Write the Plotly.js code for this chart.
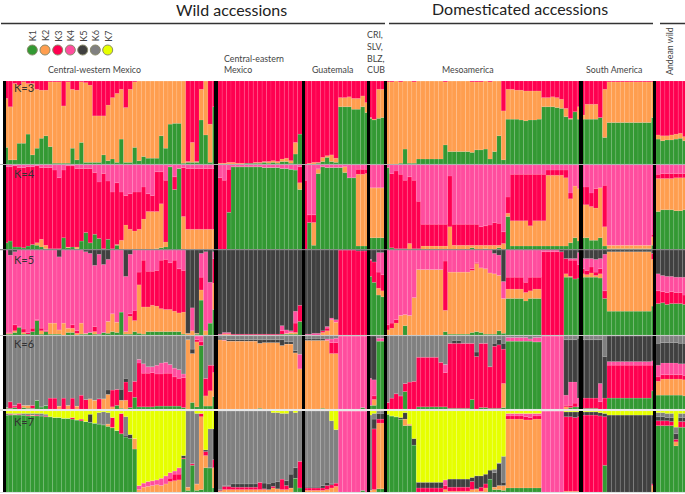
<!DOCTYPE html>
<html><head><meta charset="utf-8">
<script src="https://cdn.plot.ly/plotly-3.0.1.min.js"></script>
<style>html,body{margin:0;padding:0;background:#fff}#c{width:685px;height:494px}</style>
</head><body><div id="c"></div>
<script>
// Cluster names and colours, bottom to top of every stacked bar
const clusterNames=['K1','K2','K3','K4','K5','K6','K7'];
const clusterColors=['#339933','#FF9E4F','#FF0050','#FF4D9E','#404040','#808080','#E6FF00'];
// Each bar: upper boundary (percent) of K1, K2, ... ; the row's last cluster fills up to 100.
// K=3
const k3_cw=[[20,79],[5,69],[5,97],[25,95],[25,99],[36,97],[11,97],[19,90],[31,89],[34,89],[21,99],[1,99],[1,99],[1,70],[1,99],[19,90],[5,89],[26,99],[2,98],[2,95],[2,58],[2,58],[11,58],[4,71],[6,80],[2,85],[30,90],[2,68],[2,90],[20,99],[4,100],[9,100],[7,100],[7,100],[7,100],[34,100],[19,100],[48,100],[49,100],[49,100],[1,100],[2,3],[2,26],[2,3],[53,90],[35,100],[2,48],[69,69]];
const k3_ce=[[0,1],[0,1],[0,2],[0,2],[0,1],[0,1],[1,1],[1,1],[1,2],[1,2],[2,3],[1,3],[2,4],[1,3],[3,6],[3,7],[1,4],[12,26],[36,36]];
const k3_gu=[[0,0],[0,1],[0,2],[1,2],[3,8],[8,10],[3,11],[2,7],[69,80],[69,80],[69,81],[66,79],[66,79],[69,82],[62,74]];
const k3_cr=[[55,56],[53,54],[55,90],[56,90]];
const k3_me=[[0,99],[0,99],[0,100],[1,99],[18,100],[1,100],[1,99],[6,100],[6,100],[6,100],[6,100],[6,100],[6,100],[23,99],[15,100],[15,100],[15,100],[15,100],[15,100],[14,99],[17,99],[17,99],[18,100],[6,99],[15,100],[34,100],[5,64],[54,90],[54,90],[54,89],[53,89],[52,88],[53,88],[53,88],[54,88],[69,80],[69,80],[69,81],[68,80],[67,78],[57,67],[54,55],[63,63],[54,69]];
const k3_sa=[[54,59],[54,72],[54,72],[54,72],[56,56],[32,90],[50,99],[50,99],[50,99],[50,99],[50,99],[50,99],[50,99],[50,99],[50,99],[50,99],[56,99]];
const k3_an=[[30,35],[28,34],[29,34],[29,35],[30,36],[31,37],[28,33]];
// K=4
const k4_cw=[[8,8,98],[10,10,98],[3,3,99],[3,3,97],[2,2,97],[4,4,98],[6,6,98],[5,8,99],[3,12,97],[1,5,97],[1,1,97],[1,1,94],[1,1,85],[14,14,94],[2,3,99],[3,3,99],[1,3,96],[10,10,96],[20,20,96],[8,8,96],[18,18,91],[13,13,80],[1,1,90],[12,12,81],[1,1,68],[5,6,79],[0,11,68],[0,29,64],[0,24,66],[0,22,68],[0,24,68],[0,36,74],[0,45,66],[0,45,64],[1,45,92],[2,54,92],[3,9,82],[98,98,98],[71,71,86],[96,96,96],[0,39,97],[0,24,96],[0,24,96],[0,24,96],[0,24,96],[0,24,96],[0,24,96],[0,24,96]];
const k4_ce=[[0,0,85],[0,0,82],[44,44,95],[98,98,98],[98,98,98],[98,98,98],[98,98,98],[98,98,98],[98,98,98],[98,98,98],[97,97,97],[97,97,97],[97,97,97],[97,97,97],[96,96,96],[96,96,96],[95,95,95],[94,94,94],[71,79,98]];
const k4_gu=[[0,0,82],[32,32,41],[5,32,41],[90,95,96],[98,98,98],[97,97,97],[97,97,97],[97,97,97],[97,97,97],[91,98,98],[85,85,85],[85,85,85],[4,89,95],[4,89,95],[4,90,95]];
const k4_cr=[[14,73,73],[14,73,73],[14,73,73],[14,73,73]];
const k4_me=[[97,97,97],[2,2,90],[1,1,93],[1,1,89],[1,1,82],[0,7,86],[1,1,82],[1,1,57],[0,4,30],[0,4,30],[0,4,30],[0,4,30],[0,4,30],[0,4,30],[0,27,87],[0,5,30],[0,5,30],[0,5,30],[0,5,30],[2,5,30],[0,5,30],[0,5,27],[1,5,28],[0,5,29],[0,5,32],[2,5,31],[0,7,21],[39,43,62],[4,34,89],[4,34,89],[4,34,89],[4,34,89],[4,28,89],[4,34,89],[4,34,89],[4,34,89],[4,88,94],[4,88,94],[4,88,94],[4,88,94],[4,85,94],[8,60,67],[14,75,75],[10,72,72]];
const k4_sa=[[14,53,74],[14,53,74],[11,51,67],[11,49,72],[14,73,73],[4,27,76],[1,5,5],[1,5,5],[1,5,5],[1,5,5],[1,5,5],[1,5,5],[1,5,5],[1,5,5],[1,5,5],[1,5,5],[5,15,18]];
const k4_an=[[45,84,89],[47,84,90],[47,84,90],[47,84,90],[46,85,90],[46,85,90],[47,85,90]];
// K=5
const k5_cw=[[1,2,3,100],[1,2,3,94],[3,5,12,98],[9,9,10,100],[1,3,7,100],[1,1,3,100],[4,4,8,100],[17,17,18,100],[1,5,8,100],[4,4,5,100],[1,14,14,100],[1,14,14,100],[1,6,6,92],[0,14,14,100],[3,8,8,100],[3,8,12,100],[0,2,5,100],[1,14,14,100],[1,2,2,98],[3,3,3,96],[1,4,10,82],[1,1,1,95],[3,3,3,83],[2,16,16,89],[4,25,25,100],[3,15,15,100],[27,27,27,100],[1,4,4,69],[1,22,25,95],[4,17,29,100],[2,59,74,100],[1,33,88,100],[4,33,75,100],[4,35,75,100],[4,34,76,100],[4,31,88,100],[4,30,89,100],[4,30,85,100],[4,28,88,100],[4,26,78,100],[1,27,76,100],[0,2,2,2],[0,5,5,32],[1,2,2,2],[41,53,68,96],[0,5,5,98],[14,14,14,62],[30,61,90,98]];
const k5_ce=[[0,0,0,1],[0,1,2,3],[0,1,2,3],[0,0,1,1],[0,0,1,1],[0,0,1,1],[0,0,1,1],[0,0,1,1],[0,0,1,1],[0,0,1,1],[0,0,1,1],[0,0,1,1],[0,0,1,1],[0,0,1,1],[1,1,5,11],[1,2,2,6],[1,3,3,5],[1,3,14,28],[16,16,35,35]];
const k5_gu=[[0,0,0,1],[0,0,0,1],[0,0,0,2],[0,0,0,2],[0,3,5,5],[0,5,8,10],[0,18,18,20],[0,15,15,18],[0,0,100,100],[0,0,100,100],[0,0,100,100],[0,0,100,100],[0,0,99,99],[0,0,99,99],[0,0,99,99]];
const k5_cr=[[69,69,88,89],[62,62,86,86],[47,55,74,97],[45,52,71,97]];
const k5_me=[[0,6,12,100],[0,8,14,100],[0,14,18,100],[0,23,23,100],[11,24,24,100],[0,23,23,100],[0,44,44,100],[0,77,77,100],[0,77,77,100],[0,77,77,100],[0,77,77,100],[0,77,77,100],[0,77,77,100],[4,29,87,100],[1,74,74,100],[1,74,74,100],[1,74,74,100],[1,74,74,100],[1,74,74,100],[3,76,78,100],[4,84,85,100],[3,79,79,100],[1,78,78,100],[1,73,73,100],[1,72,72,96],[5,70,70,94],[2,43,43,63],[43,54,68,100],[43,54,68,100],[43,54,68,100],[43,54,68,100],[40,50,62,100],[43,52,68,100],[43,54,68,100],[43,54,68,100],[0,0,98,100],[0,0,98,100],[0,0,98,100],[0,0,98,100],[0,0,98,98],[68,72,90,90],[68,69,88,90],[66,66,88,90],[67,67,83,97]];
const k5_sa=[[68,72,78,90],[68,71,76,90],[68,73,80,90],[68,70,74,89],[67,72,78,90],[43,43,52,95],[28,98,98,98],[28,98,98,98],[28,98,98,98],[28,98,98,98],[28,98,98,98],[28,98,98,98],[28,98,98,98],[28,98,98,98],[28,98,98,98],[28,98,98,98],[34,89,96,96]];
const k5_an=[[37,37,52,72],[38,38,51,70],[36,36,50,69],[37,37,51,69],[37,37,50,68],[37,37,50,68],[36,36,47,68]];
// K=6
const k6_cw=[[1,2,2,2,2],[1,1,10,10,10],[2,2,4,5,5],[0,0,8,8,8],[2,5,5,5,5],[1,5,5,5,5],[1,1,5,5,5],[12,12,12,12,12],[3,3,3,3,3],[5,5,5,5,5],[0,0,15,15,15],[0,0,15,15,15],[0,4,4,4,4],[0,0,15,15,15],[0,5,5,5,5],[0,0,15,15,15],[0,4,4,4,4],[0,0,19,19,19],[0,0,13,13,13],[0,14,14,14,14],[0,12,12,12,12],[0,0,14,14,14],[0,14,14,14,14],[0,20,20,20,26],[0,3,26,26,26],[5,5,27,27,27],[1,12,12,12,27],[0,12,37,37,42],[2,2,24,24,24],[16,16,38,38,38],[3,3,63,68,68],[3,3,49,62,62],[3,3,49,58,58],[3,3,50,58,58],[4,4,48,60,60],[4,4,48,63,63],[4,4,49,64,64],[4,4,49,61,61],[4,4,44,56,56],[4,4,42,54,54],[2,2,43,48,48],[0,95,95,95,95],[9,76,76,76,82],[3,92,95,100,100],[87,87,92,100,100],[4,18,42,42,42],[4,25,60,60,60],[17,50,60,60,60]];
const k6_ce=[[0,95,95,95,97],[0,94,94,95,96],[0,93,93,93,95],[0,93,93,93,95],[0,93,93,93,95],[0,93,93,93,95],[0,93,93,93,95],[0,93,93,93,95],[0,93,93,93,95],[1,90,90,90,95],[0,91,91,91,95],[0,91,91,91,95],[0,91,91,91,95],[0,91,91,91,95],[0,87,87,87,95],[0,89,89,89,92],[0,89,89,89,92],[0,77,77,77,80],[0,55,55,75,75]];
const k6_gu=[[0,94,94,94,96],[0,94,94,94,96],[0,94,94,94,96],[0,94,94,94,96],[1,94,94,94,96],[0,94,94,96,96],[0,76,91,96,96],[0,76,91,97,97],[0,0,0,100,100],[0,0,0,100,100],[0,0,0,100,100],[0,0,0,100,100],[0,0,0,100,100],[2,2,2,100,100],[0,0,0,100,100]];
const k6_cr=[[5,5,5,42,100],[5,13,18,40,100],[93,93,93,97,97],[93,93,93,97,97]];
const k6_me=[[0,0,9,9,9],[0,0,15,15,15],[0,0,21,21,21],[0,0,18,18,18],[24,24,35,35,35],[0,0,37,37,37],[0,0,38,38,38],[3,3,71,71,71],[3,3,71,71,71],[3,3,71,71,71],[3,3,71,71,71],[3,3,71,71,71],[3,3,64,64,64],[3,3,50,61,61],[1,1,90,90,90],[1,1,90,90,94],[1,1,90,90,94],[1,1,90,90,90],[1,1,90,90,90],[13,13,90,90,90],[0,0,72,72,78],[2,2,90,90,90],[2,2,90,90,90],[1,1,58,58,58],[1,1,86,86,90],[1,1,88,88,95],[2,35,82,82,90],[93,93,93,98,98],[93,93,93,98,98],[93,93,93,98,98],[93,93,93,98,98],[93,93,93,98,98],[93,93,93,96,96],[92,92,92,98,98],[92,92,92,98,98],[0,0,0,100,100],[0,0,0,100,100],[0,0,0,100,100],[0,0,0,100,100],[0,0,0,100,100],[0,3,5,19,95],[2,2,5,37,95],[3,3,8,37,95],[3,3,3,15,97]];
const k6_sa=[[1,1,15,15,95],[1,1,15,15,95],[1,1,15,15,95],[1,1,15,15,95],[0,0,10,35,95],[0,0,15,15,72],[15,15,60,65,100],[15,15,60,65,100],[15,15,60,65,100],[15,15,60,65,100],[15,15,60,65,100],[15,15,60,65,100],[15,15,60,65,100],[15,15,60,65,100],[15,15,60,65,100],[15,15,60,65,100],[25,25,60,66,100]];
const k6_an=[[19,38,44,60,90],[19,41,47,63,91],[19,41,47,63,91],[19,41,47,63,91],[19,41,47,63,91],[19,41,47,62,90],[18,40,46,62,90]];
// K=7
const k7_cw=[[95,95,95,95,95,97],[95,95,96,96,96,97],[95,96,96,96,96,97],[95,95,96,96,96,97],[95,95,95,95,95,97],[94,94,95,95,95,97],[94,95,95,95,95,97],[94,94,95,95,95,97],[94,94,94,94,94,97],[93,93,94,94,94,96],[93,93,93,93,93,93],[92,92,92,92,92,92],[92,92,92,92,92,92],[91,91,91,91,91,91],[91,91,91,91,91,91],[90,90,92,92,92,92],[89,89,89,89,89,89],[88,88,90,90,90,90],[87,87,87,87,87,87],[86,86,86,86,96,96],[85,85,85,85,85,85],[84,84,84,84,84,98],[83,83,83,83,83,99],[81,84,84,84,84,98],[79,80,92,92,92,92],[76,76,76,76,76,76],[72,72,97,97,97,97],[68,68,68,68,70,93],[66,66,66,66,71,71],[53,66,66,66,66,66],[0,3,3,8,8,8],[0,6,6,11,11,11],[0,7,7,13,13,13],[0,8,8,14,14,14],[0,9,9,15,15,15],[0,8,8,17,17,17],[0,10,10,20,20,20],[0,13,17,24,24,24],[0,14,22,26,26,26],[0,15,22,30,30,30],[41,41,42,42,45,45],[2,6,6,6,6,100],[33,33,35,35,35,100],[2,10,10,10,10,97],[3,93,97,97,97,97],[30,45,50,50,52,52],[30,30,30,30,30,78],[5,30,40,40,78,78]];
const k7_ce=[[0,1,2,2,3,100],[0,3,7,7,8,100],[0,3,7,7,8,100],[0,3,6,6,10,100],[0,3,6,6,10,100],[0,3,6,6,10,100],[0,3,6,6,10,100],[0,3,6,6,10,100],[0,3,6,6,10,100],[0,3,12,12,12,100],[0,3,4,4,11,100],[0,3,3,3,10,100],[0,5,7,7,12,98],[0,4,4,4,13,98],[0,3,16,16,16,97],[0,3,8,8,14,97],[0,5,5,5,22,100],[17,17,17,17,30,98],[5,5,38,38,38,100]];
const k7_gu=[[0,2,5,5,6,100],[0,2,5,5,6,100],[0,2,5,5,6,100],[0,2,5,5,6,100],[0,2,5,5,8,100],[0,3,8,8,12,100],[0,5,9,9,10,88],[0,7,11,11,11,77],[0,0,0,100,100,100],[0,0,0,100,100,100],[0,0,0,100,100,100],[0,0,0,100,100,100],[0,0,0,100,100,100],[2,2,2,100,100,100],[0,0,0,100,100,100]];
const k7_cr=[[0,2,2,2,2,95],[0,3,78,78,90,97],[4,85,90,90,97,100],[4,85,90,90,97,100]];
const k7_me=[[96,96,96,96,96,96],[94,94,94,94,94,94],[93,93,93,93,93,93],[90,90,90,90,92,92],[82,90,90,90,98,98],[82,84,84,84,84,84],[58,58,58,58,66,66],[0,0,5,5,12,12],[0,0,5,5,12,12],[0,0,5,5,12,12],[0,0,5,5,12,12],[0,0,5,5,12,12],[0,0,5,5,12,12],[0,3,8,15,15,15],[0,1,6,6,16,16],[0,1,6,6,16,16],[0,1,6,6,16,16],[0,1,6,6,16,16],[0,1,6,6,16,16],[0,3,13,13,18,18],[0,4,4,4,20,20],[0,1,6,6,20,20],[0,5,10,10,22,22],[16,16,16,16,27,27],[3,6,6,6,24,28],[3,8,8,8,35,36],[2,8,8,8,12,44],[5,90,94,97,97,97],[5,90,94,97,97,97],[5,90,94,97,97,97],[5,90,94,97,97,97],[5,89,93,97,97,97],[5,89,92,97,97,97],[5,90,94,97,97,97],[5,90,94,97,97,97],[0,0,0,100,100,100],[0,0,0,100,100,100],[0,0,0,100,100,100],[0,0,0,100,100,100],[0,0,0,100,100,100],[0,1,93,93,99,99],[0,1,93,93,99,99],[0,1,92,92,99,99],[0,1,93,93,99,99]];
const k7_sa=[[0,0,95,95,99,99],[0,0,95,95,99,99],[0,0,95,95,99,99],[0,0,95,95,99,99],[0,0,94,94,98,98],[33,33,93,93,97,97],[0,0,0,0,95,95],[0,0,0,0,95,95],[0,0,0,0,95,95],[0,0,0,0,95,95],[0,0,0,0,95,95],[0,0,0,0,95,95],[0,0,0,0,95,95],[0,0,0,0,95,95],[0,0,0,0,95,95],[0,0,0,0,95,95],[0,8,10,10,95,95]];
const k7_an=[[82,82,88,88,93,98],[82,82,88,88,93,98],[82,82,88,88,92,97],[82,82,87,87,92,97],[57,62,65,65,72,80],[80,80,87,87,92,97],[80,80,87,87,92,97]];

const rowLabels=['K=3','K=4','K=5','K=6','K=7'];
const rows=[
 [k3_cw,k3_ce,k3_gu,k3_cr,k3_me,k3_sa,k3_an],
 [k4_cw,k4_ce,k4_gu,k4_cr,k4_me,k4_sa,k4_an],
 [k5_cw,k5_ce,k5_gu,k5_cr,k5_me,k5_sa,k5_an],
 [k6_cw,k6_ce,k6_gu,k6_cr,k6_me,k6_sa,k6_an],
 [k7_cw,k7_ce,k7_gu,k7_cr,k7_me,k7_sa,k7_an]];

// Layout (page pixels)
const W=685,H=494;
const rowSpan=[[81,164],[165,249.5],[250,335],[336,409],[411,492]];
const groupStart=[3.67,217.7,302.7,367.5,385,580.3,656];
const groupBarW=[4.44,4.44,4.44,4.44,4.47,4.44,4.44];
const sepEdges=[[3.3,5.5],[214.3,217.7],[301.7,304.7],[366.7,370],[384,387],[579.3,582.5],[653.3,656]];
const rowLabelY=[87,173,259,343,421];

const traces=[];
rows.forEach((groups,r)=>{
  const axis=r===0?'y':'y'+(r+1);
  const n=r+3;
  for(let c=0;c<n;c++){
    const x=[],w=[],y=[],b=[];
    groups.forEach((bars,g)=>{
      bars.forEach((t,i)=>{
        const at=k=>k<0?0:(k>=n-1?100:(k<t.length?t[k]:t[t.length-1]));
        x.push(groupStart[g]+groupBarW[g]*(i+.5));
        w.push(groupBarW[g]);
        b.push(at(c-1));
        y.push(at(c)-at(c-1));
      });
    });
    traces.push({type:'bar',x,y,base:b,width:w,yaxis:axis,xaxis:'x',hoverinfo:'skip',showlegend:false,
      marker:{color:clusterColors[c],line:{color:'rgba(255,255,255,0.14)',width:0.6}}});
  }
  traces.push({type:'bar',x:sepEdges.map(e=>(e[0]+e[1])/2),width:sepEdges.map(e=>e[1]-e[0]),
    y:sepEdges.map(()=>100),base:sepEdges.map(()=>0),yaxis:axis,xaxis:'x',hoverinfo:'skip',showlegend:false,
    marker:{color:'#000',line:{width:0}}});
});
// Colour key
const keyX=[32.3,45,57.7,70.3,82.7,95.3,107.7];
traces.push({type:'scatter',mode:'markers',x:keyX,y:keyX.map(()=>50),yaxis:'y6',xaxis:'x',hoverinfo:'skip',showlegend:false,
  marker:{size:10,color:clusterColors,line:{color:'#8a8a6a',width:1}}});

const layout={width:W,height:H,margin:{l:0,r:0,t:0,b:0},paper_bgcolor:'#fff',plot_bgcolor:'rgba(0,0,0,0)',
  barmode:'overlay',bargap:0,showlegend:false,
  xaxis:{domain:[0,1],range:[0,W],visible:false,fixedrange:true,anchor:'y6'},
  yaxis6:{domain:[0,1],range:[H,0],visible:false,fixedrange:true,anchor:'x'},
  shapes:[],annotations:[]};
rowSpan.forEach((s,r)=>{
  const key=r===0?'yaxis':'yaxis'+(r+1);
  layout[key]={domain:[1-s[1]/H,1-s[0]/H],range:[0,100],visible:false,fixedrange:true,anchor:'x'};
});
const hline=(x0,x1,y,color,w)=>layout.shapes.push({type:'line',xref:'paper',yref:'paper',x0:x0/W,x1:x1/W,y0:1-y/H,y1:1-y/H,line:{color,width:w},layer:'above'});
hline(1,385,23.5,'#333',1.5);hline(389,653,23.5,'#333',1.5);hline(660,685,23.5,'#333',1.5);
hline(0,685,164.5,'#b0b0b0',1);hline(0,685,249.7,'#777',1);hline(0,685,335.5,'#c8c8c8',1);hline(0,685,410,'#e0e0e0',1.5);hline(0,685,492.5,'#ddd',1);

const FONT='Lato, "Open Sans", sans-serif';
const note=(text,x,y,size,color,anchor,angle)=>layout.annotations.push({text,x:x/W,y:1-y/H,xref:'paper',yref:'paper',showarrow:false,
  xanchor:anchor||'center',yanchor:'middle',textangle:angle||0,font:{family:FONT,size,color},align:'left',borderpad:0});
note('Wild accessions',231,9,16,'#222');
note('Domesticated accessions',520,8,16,'#222');
clusterNames.forEach((t,i)=>note(t,keyX[i],36,9,'#444','center',-90));
note('Central-western Mexico',94,69,8.8,'#444');
note('Central-eastern',223,58,8.8,'#444','left');
note('Mexico',223,69,8.8,'#444','left');
note('Guatemala',311,69,8.8,'#444','left');
['CRI,','SLV,','BLZ,','CUB'].forEach((t,i)=>note(t,366,35+i*11.6,8.8,'#444','left'));
note('Mesoamerica',468,69,8.8,'#444');
note('South America',614,69,8.8,'#444');
note('Andean wild',669,51,8.8,'#444','center',-90);
rowLabels.forEach((t,i)=>note(t,13,rowLabelY[i],11,'#333','left'));

Plotly.newPlot('c',traces,layout,{staticPlot:true,displayModeBar:false});
</script></body></html>
